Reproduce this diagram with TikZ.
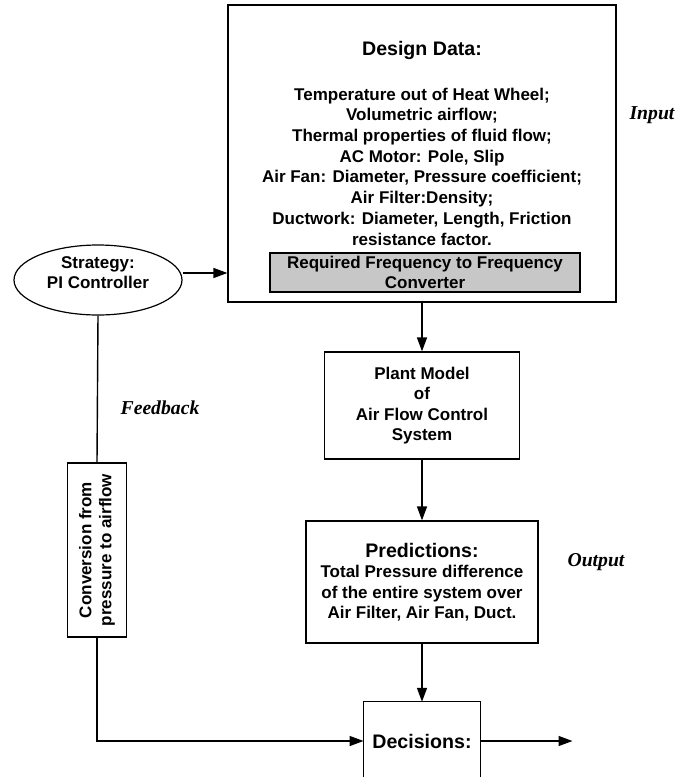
\documentclass[tikz,border=0pt]{standalone}
\usepackage{fontspec}
\setmainfont{Liberation Serif}
\setsansfont{Liberation Sans}
\usetikzlibrary{shapes.geometric, arrows.meta}
\tikzset{>={Triangle[length=14pt,width=10pt]}}
\tikzset{box/.style={draw, line width=1.2pt, align=center, inner sep=0pt,
    font=\sffamily\bfseries\fontsize{17}{20.5}\selectfont},
  txt/.style={align=center, inner sep=0pt,
    font=\sffamily\bfseries\fontsize{17}{20.7}\selectfont},
  head/.style={inner sep=0pt, font=\sffamily\bfseries\fontsize{19.6}{22}\selectfont},
  sidelabel/.style={inner sep=0pt, font=\rmfamily\bfseries\itshape\fontsize{19.7}{22}\selectfont},
  flow/.style={line width=1.4pt}}

\begin{document}
\begin{tikzpicture}[x=1pt, y=-1pt]
    \useasboundingbox (0,0) rectangle (692,777);
    % input block
    \node (design) at (422,153.5) [box, minimum width=388, minimum height=297] {};
    \node (title) at (422,50.5) [head] {Design Data:};
    \node (data) at (422,166.5) [txt] {Temperature out of Heat Wheel;\\Volumetric airflow;\\Thermal properties of fluid flow;\\AC Motor: Pole, Slip\\Air Fan: Diameter, Pressure coefficient;\\Air Filter:Density;\\Ductwork: Diameter, Length, Friction\\resistance factor.};
    \node (freq) at (425,272.5) [box, fill=black!22, minimum width=310, minimum height=39, font=\sffamily\bfseries\fontsize{17}{19.5}\selectfont] {Required Frequency to Frequency\\Converter};
    \node (input) at (652,115) [sidelabel] {Input};

    % controller and feedback
    \node (strat) at (98,280) [draw, ellipse, line width=1.2pt, minimum width=168, minimum height=70] {};
    \node (strattxt) at (98,273) [txt, font=\sffamily\bfseries\fontsize{17}{20}\selectfont] {Strategy:\\PI Controller};
    \node (conv) at (97,550) [box, rotate=90, minimum width=174, minimum height=59, font=\sffamily\bfseries\fontsize{17}{20}\selectfont] {Conversion from\\pressure to airflow};
    \node (feedback) at (160,408) [sidelabel] {Feedback};

    % plant and output
    \node (plant) at (422,405.5) [box, minimum width=195, minimum height=107] {Plant Model\\of\\Air Flow Control\\System};
    \node (pred) at (422,582) [box, minimum width=232, minimum height=122] {{\fontsize{19.6}{20.5}\selectfont Predictions:}\\Total Pressure difference\\of the entire system over\\Air Filter, Air Fan, Duct.};
    \node (output) at (596,562) [sidelabel] {Output};

    % decisions (open at the bottom)
    \node (dec) at (422,739.5) [minimum width=116.5, minimum height=75, inner sep=0pt] {};
    \node (dectxt) at (422,741) [head] {Decisions:};
    \draw [line width=1.2pt] (dec.south west) |- (dec.north east) -- (dec.south east);
    \coordinate (out) at (572.5,741);

    \draw [flow, ->] (strattxt -| strat.east) -- (strattxt -| design.west);
    \draw [flow, ->] (design.south) -- (plant.north);
    \draw [flow, ->] (plant.south) -- (pred.north);
    \draw [flow, ->] (pred.south) -- (dec.north);
    \draw [flow] (strat.south) -- (conv.east);
    \draw [flow, ->] (conv.west) |- (dectxt -| dec.west);
    \draw [flow, ->] (dectxt -| dec.east) -- (out);
\end{tikzpicture}
\end{document}
